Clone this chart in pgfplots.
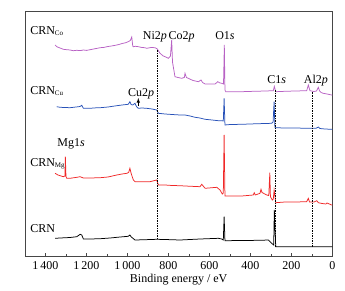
\documentclass[border=0pt]{standalone}
\usepackage{pgfplots}
\pgfplotsset{compat=1.18}
\usepackage{fontspec}
\setmainfont{Liberation Serif}
\definecolor{cCo}{RGB}{184,98,196}
\definecolor{cCu}{RGB}{40,82,184}
\definecolor{cMg}{RGB}{240,40,40}
\definecolor{axgray}{RGB}{70,70,70}
\begin{document}
\fontsize{12}{14}\selectfont
\begin{tikzpicture}
\path[use as bounding box] (-25pt,-34pt) rectangle (320pt,256pt);
\begin{axis}[
  at={(0,0)}, anchor=south west,
  scale only axis, width=307.3pt, height=245pt,
  x dir=reverse, xmin=0, xmax=1500, ymin=0, ymax=245,
  xtick={0,200,...,1400}, minor x tick num=1,
  ytick=\empty, xtick pos=bottom, tick align=inside,
  major tick length=3pt, minor tick length=2pt,
  axis line style={axgray, line width=0.7pt},
  every tick/.style={axgray, line width=0.6pt},
  /pgf/number format/assume math mode=true,
  /pgf/number format/1000 sep={\,},
  xticklabel style={font=\fontsize{12}{14}\selectfont, yshift=-1pt},
  xlabel={Binding energy / eV},
  xlabel style={font=\fontsize{12}{14}\selectfont, yshift=3pt},
  clip=false,
]
% CRN_Co (purple)
\addplot[cCo, line width=0.75pt] coordinates {
(1353,211) (1345,209.3) (1329,208) (1313,206.7) (1300,206.4) (1280,206) (1265,205.3) (1247,205.7) (1230,205.4) (1215,206) (1200,205.6) (1182,206.3) (1160,207.2) (1133,208.3) (1115,208.6) (1095,209.5) (1075,210.1) (1052,211) (1040,211.6) (1026,212.5) (1010,213.2) (996,214.3) (986,215.5) (979,219) (974,210) (971,209.3) (960,209.7) (947,209.3) (929,208.5) (915,208.3) (906,207.7) (885,208.5) (865,208.3) (854,207) (841,202.7) (825,200) (816,199.3) (800,197.7) (790,200) (784,216) (780,194) (768,179.3) (753,178.5) (735,177.7) (722,178.6) (719,182.7) (712,178.5) (703,177.7) (680,175.5) (653,174.3) (641,176) (633,173.5) (621,172) (597,172) (572,172) (559,174.3) (550,173.2) (540,172.7) (531,172) (527,211) (524,166) (520,164.3) (485,164.3) (442,164.3) (400,164.6) (377,164.7) (328,165) (288,165.3) (283,169.5) (276,164.3) (231,164.7) (182,165) (125,165.3) (117,171) (109,165.3) (89,164.5) (77,165) (68,168.7) (62,165) (55,163.5) (44,162.7) (26,162) (3,161) (0,161)
};
% CRN_Cu (blue)
\addplot[cCu, line width=0.75pt] coordinates {
(1345,149.3) (1329,148.7) (1304,148.5) (1280,148.3) (1251,149) (1231,149.5) (1223,150.7) (1215,147.7) (1182,147.7) (1160,148.1) (1133,148.3) (1095,149) (1052,150.3) (1026,151) (996,151.7) (988,154.3) (982,151.5) (974,151) (963,152.7) (956,149.5) (947,147.7) (929,148) (906,147.7) (880,147) (857,146) (849,142.7) (816,142) (782,141.5) (743,141) (719,141) (694,140) (670,138.7) (646,138) (621,136.7) (587,136) (556,135.3) (540,135.3) (532,135) (528,157.7) (524,131) (499,131.5) (442,131.7) (377,132.2) (328,132.5) (296,132.7) (289,134) (284,154.3) (280,128.3) (231,128) (182,128) (117,127.7) (80,127.7) (68,129) (60,127.5) (36,127) (3,126.7) (0,126.7)
};
% CRN_Mg (red)
\addplot[cMg, line width=0.75pt] coordinates {
(1353,82.7) (1339,81) (1313,79.3) (1305,80) (1303,99.3) (1300,79.5) (1296,77.7) (1280,77.7) (1247,78.7) (1231,79.3) (1215,78) (1182,78) (1133,78.3) (1095,79) (1052,81) (1026,82) (1003,82.7) (994,83.5) (988,87.7) (981,82) (971,76) (963,74.3) (938,74.3) (890,74.3) (857,76) (849,71) (816,71) (782,70.5) (743,70.3) (719,70) (646,69.3) (637,71.7) (621,67.7) (564,68.7) (548,66) (537,62) (532,63) (528,121) (524,60) (442,60) (386,61) (381,63.3) (376,61) (353,62.7) (348,66.7) (343,63.5) (320,61) (310,60.5) (305,83.3) (302,59.3) (293,56) (288,57) (284,66) (276,53.3) (231,54) (182,54) (125,54.3) (117,57.7) (111,54) (89,54) (76,55.3) (68,53.3) (50,52.5) (31,52) (26,53) (3,51) (0,51)
};
% CRN (black)
\addplot[black, line width=0.75pt] coordinates {
(1353,17.7) (1329,18) (1280,18.5) (1247,19.3) (1231,21.7) (1223,21) (1215,17) (1182,17) (1133,17.3) (1085,18) (1036,19) (996,19.7) (988,21) (981,19) (963,16) (914,16.3) (857,16.7) (816,16.5) (743,16) (646,17) (556,17.7) (540,17) (532,16) (528,39.3) (524,15.3) (442,15.5) (353,15.7) (312,16) (296,12.7) (286,11) (283,46) (276,9.3) (206,9.3) (109,9.3) (3,9.3) (0,9.3)
};
% dashed marker lines
\addplot[black, dash pattern=on 1.5pt off 1pt, line width=0.5pt] coordinates {(854,16.7) (854,206)};
\addplot[black, dash pattern=on 1.5pt off 1pt, line width=0.5pt] coordinates {(280,9.3) (280,166)};
\addplot[black, dash pattern=on 1.5pt off 1pt, line width=0.5pt] coordinates {(100,9.3) (100,164.5)};
% labels
\node[anchor=base west, inner sep=0pt] at (axis cs:1475,222) {CRN\textsubscript{\fontsize{7}{8}\selectfont Co}};
\node[anchor=base west, inner sep=0pt] at (axis cs:1475,162) {CRN\textsubscript{\fontsize{7}{8}\selectfont Cu}};
\node[anchor=base west, inner sep=0pt] at (axis cs:1475,90) {CRN\textsubscript{\fontsize{7}{8}\selectfont Mg}};
\node[anchor=base west, inner sep=0pt] at (axis cs:1475,23.5) {CRN};
\node[anchor=base, inner sep=0pt] at (axis cs:866,217) {Ni2\textit{p}};
\node[anchor=base, inner sep=0pt] at (axis cs:735,217) {Co2\textit{p}};
\node[anchor=base, inner sep=0pt] at (axis cs:524,217) {O1\textit{s}};
\node[anchor=base, inner sep=0pt] at (axis cs:271,173) {C1\textit{s}};
\node[anchor=base, inner sep=0pt] at (axis cs:80,173) {Al2\textit{p}};
\node[anchor=base, inner sep=0pt] at (axis cs:933,160) {Cu2\textit{p}};
\node[anchor=base, inner sep=0pt] at (axis cs:1275,110) {Mg1\textit{s}};
\draw[-latex, black, line width=0.6pt] (axis cs:947,150.5) -- (axis cs:947,158);
\end{axis}
\end{tikzpicture}
\end{document}
